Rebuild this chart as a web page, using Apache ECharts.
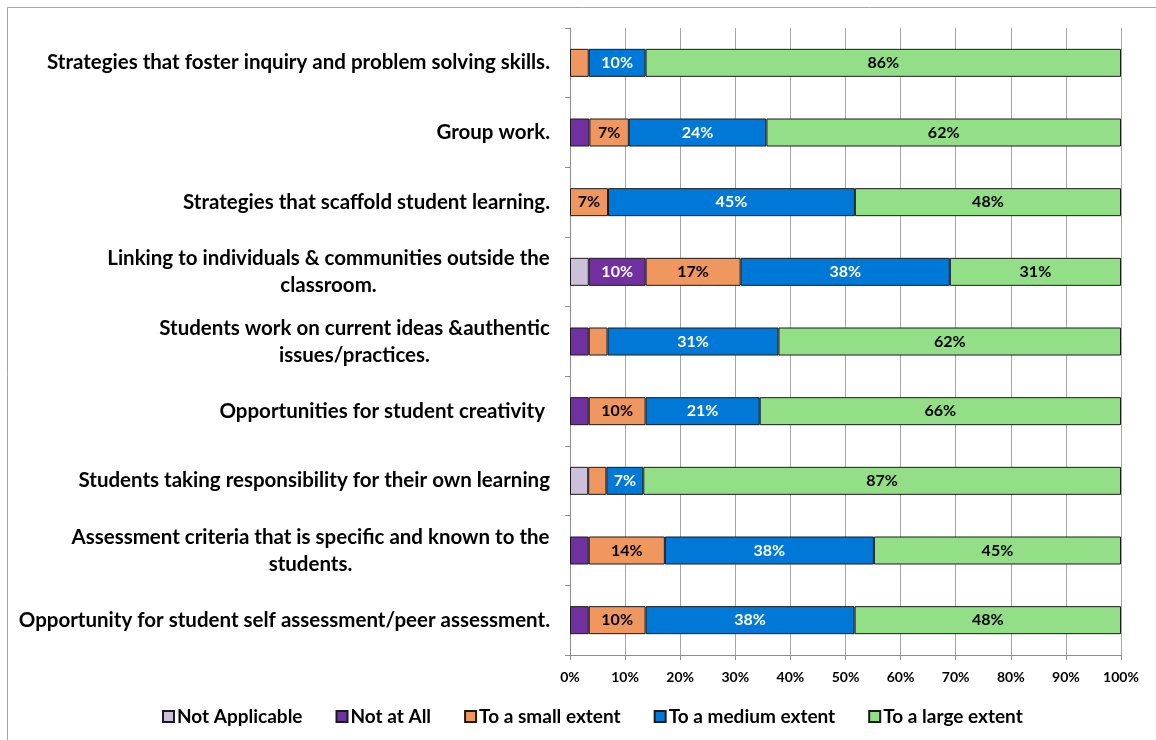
<!DOCTYPE html>
<html>
<head>
<meta charset="utf-8">
<style>
  html, body { margin: 0; padding: 0; background: #fff; }
  #chart { width: 1156px; height: 740px; }
</style>
<script src="https://cdn.jsdelivr.net/npm/echarts@6/dist/echarts.min.js"></script>
</head>
<body>
<div id="chart"></div>
<script>
// Survey items, top to bottom
const categories = [
  'Strategies that foster inquiry and problem solving skills.',
  'Group work.',
  'Strategies that scaffold student learning.',
  'Linking to individuals & communities outside the\nclassroom.',
  'Students work on current ideas &authentic\nissues/practices.',
  'Opportunities for student creativity ',
  'Students taking responsibility for their own learning',
  'Assessment criteria that is specific and known to the\nstudents.',
  'Opportunity for student self assessment/peer assessment.'
];

// Response shares (percent of respondents) per item
const notApplicable = [0, 0, 0, 3.4, 0, 0, 3.3, 0, 0];
const notAtAll      = [0, 3.4, 0, 10.3, 3.4, 3.4, 0, 3.4, 3.4];
const smallExtent   = [3.4, 6.9, 6.9, 17.2, 3.4, 10.3, 3.3, 13.8, 10.3];
const mediumExtent  = [10.3, 24.1, 44.8, 37.9, 31.0, 20.7, 6.7, 37.9, 37.9];
const largeExtent   = [86.2, 62.1, 48.3, 31.0, 62.1, 65.5, 86.7, 44.8, 48.3];

const seriesNames = ['Not Applicable', 'Not at All', 'To a small extent', 'To a medium extent', 'To a large extent'];
const xTickLabels = ['0%', '10%', '20%', '30%', '40%', '50%', '60%', '70%', '80%', '90%', '100%'];

const seriesValues = [notApplicable, notAtAll, smallExtent, mediumExtent, largeExtent];
const colors = ['#ccc0da', '#7030a0', '#f0965f', '#0078d7', '#92df88'];
const labelColors = ['#000', '#fff', '#000', '#fff', '#000'];

const FONT = 'Lato, "Open Sans", sans-serif';
const CAT_SIZE = 20.5;
const CAT_LINE = 27;

// Each bar is stacked to 100% of its row total
const rowTotals = categories.map((_, i) => seriesValues.reduce((s, arr) => s + arr[i], 0));

// Measure text so wrapped labels can center their later lines under the first one
const ctx = document.createElement('canvas').getContext('2d');
ctx.font = 'bold ' + CAT_SIZE + 'px ' + FONT;
function textWidth(t) { return Math.ceil(ctx.measureText(t).width); }

const richStyles = {};
const labelText = {};
categories.forEach((c, i) => {
  const lines = c.split('\n');
  if (lines.length > 1) {
    const key = 'w' + i;
    richStyles[key] = {
      fontFamily: FONT, fontWeight: 'bold', fontSize: CAT_SIZE, lineHeight: CAT_LINE,
      color: '#000', align: 'center', width: textWidth(lines[0])
    };
    labelText[c] = lines.map(l => '{' + key + '|' + l + '}').join('\n');
  }
});

const series = seriesValues.map((arr, k) => ({
  name: seriesNames[k],
  type: 'bar',
  stack: 'total',
  barWidth: 28,
  itemStyle: { color: colors[k], borderColor: '#1a1a1a', borderWidth: 1 },
  label: {
    show: true,
    position: 'inside',
    color: labelColors[k],
    fontFamily: FONT,
    fontWeight: 'bold',
    fontSize: 16,
    formatter: p => (p.data && p.data.raw >= 5) ? Math.round(p.data.raw) + '%' : ''
  },
  data: arr.map((v, i) => v > 0 ? { value: v / rowTotals[i] * 100, raw: v } : '-')
}));

const chart = echarts.init(document.getElementById('chart'));
chart.setOption({
  animation: false,
  backgroundColor: '#fff',
  graphic: [{
    type: 'rect',
    shape: { x: 7.5, y: 7.5, width: 1300, height: 900 },
    style: { fill: 'none', stroke: '#a6a6a6', lineWidth: 1 },
    silent: true
  }],
  grid: { left: 570, right: 35, top: 28, bottom: 85 },
  legend: {
    left: 157,
    top: 702,
    itemWidth: 11,
    itemHeight: 11,
    itemGap: 33,
    icon: 'rect',
    textStyle: { fontFamily: FONT, fontWeight: 'bold', fontSize: 19, color: '#000', padding: [0, 0, 0, -2] },
    data: seriesNames
  },
  xAxis: {
    type: 'value',
    min: 0,
    max: 100,
    interval: 10,
    axisLine: { show: true, lineStyle: { color: '#8c8c8c', width: 1 } },
    axisTick: { show: true, length: 5, lineStyle: { color: '#8c8c8c' } },
    splitLine: { show: true, lineStyle: { color: '#a6a6a6', width: 1 } },
    axisLabel: {
      margin: 15,
      fontFamily: FONT,
      fontWeight: 'bold',
      fontSize: 14,
      color: '#000',
      formatter: v => xTickLabels[Math.round(v / 10)]
    }
  },
  yAxis: {
    type: 'category',
    inverse: true,
    data: categories,
    axisLine: { show: true, lineStyle: { color: '#8c8c8c', width: 1 } },
    axisTick: { show: true, length: 5, lineStyle: { color: '#8c8c8c' } },
    axisLabel: {
      margin: 20,
      color: '#000',
      fontFamily: FONT,
      fontWeight: 'bold',
      fontSize: CAT_SIZE,
      lineHeight: CAT_LINE,
      formatter: v => labelText[v] || v,
      rich: richStyles
    }
  },
  series: series
});
</script>
</body>
</html>
